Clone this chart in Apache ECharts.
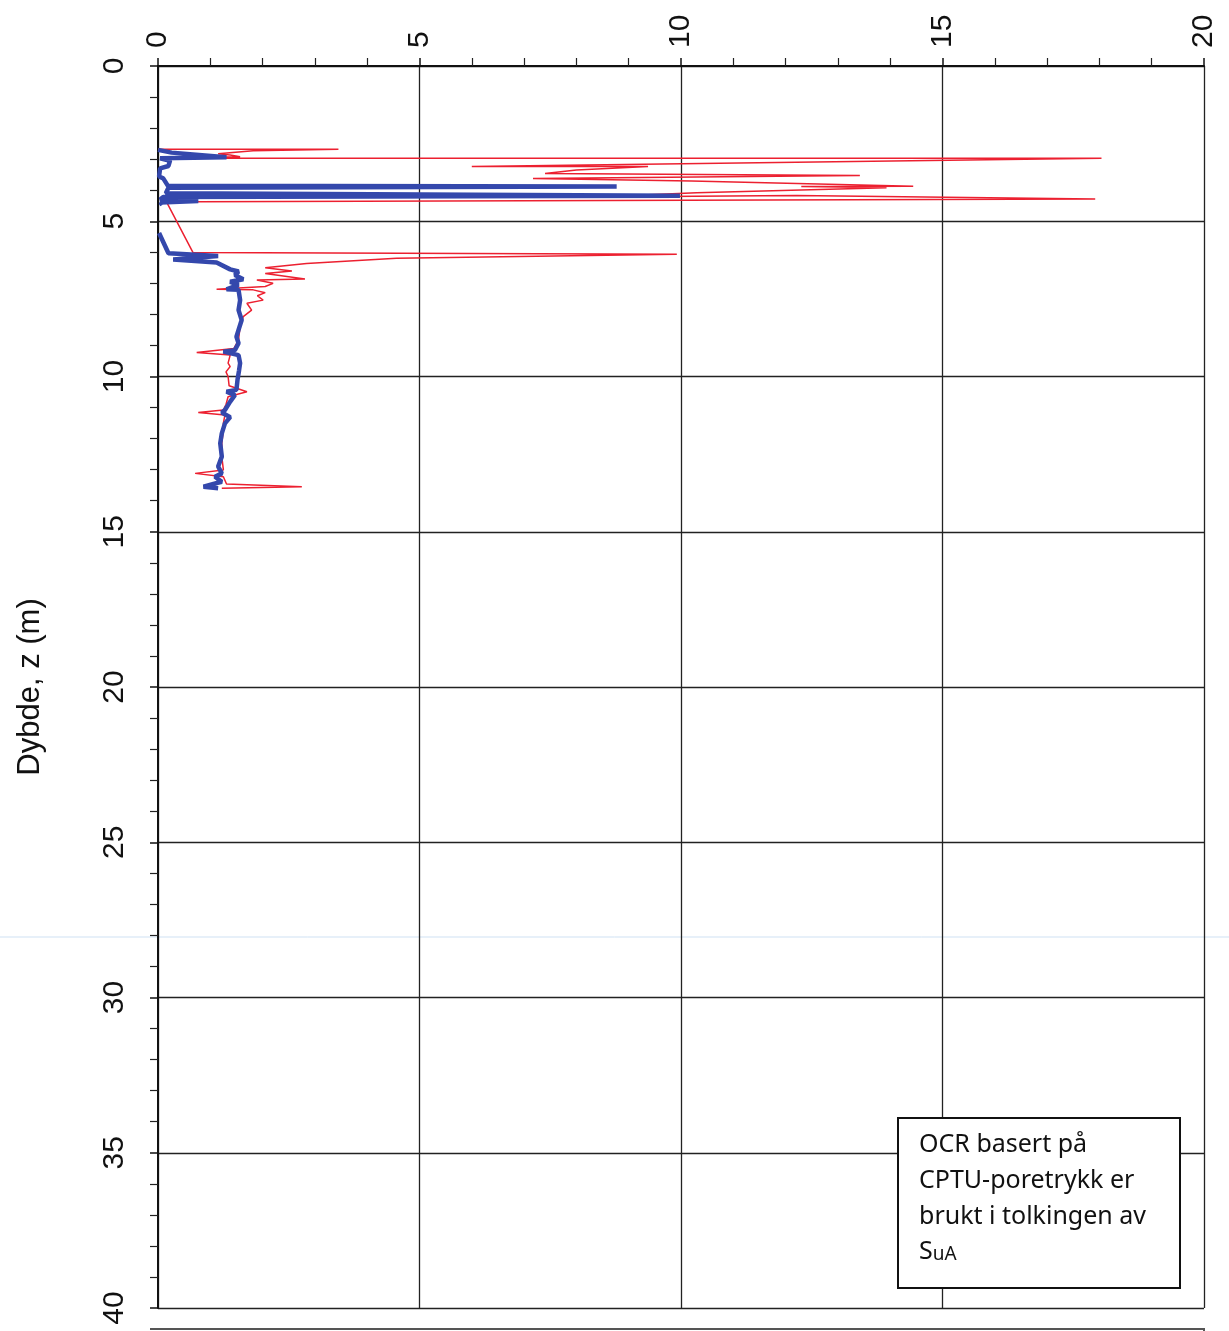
<!DOCTYPE html>
<html>
<head>
<meta charset="utf-8">
<script src="https://cdn.jsdelivr.net/npm/echarts@6/dist/echarts.min.js"></script>
<style>
html,body{margin:0;padding:0;background:#fff;}
#chart{width:1229px;height:1331px;}
</style>
</head>
<body>
<div id="chart"></div>
<script>
// OCR (x, top axis) vs depth z (m, left axis)
const xTicks = [0, 5, 10, 15, 20];
const yTicks = [0, 5, 10, 15, 20, 25, 30, 35, 40];

// Red series (thin)
const redDepth = [2.68, 2.68, 2.73, 2.83, 2.87, 2.92, 2.97, 2.97, 3.24, 3.24, 3.35, 3.46, 3.53, 3.62, 3.70, 3.87, 3.88, 3.92, 4.08, 4.22, 4.17, 4.28, 4.37, 4.40,
  6.01, 6.06, 6.12, 6.19, 6.36, 6.50, 6.60, 6.68, 6.86, 6.89, 7.00, 7.10, 7.19, 7.21, 7.30, 7.40, 7.54, 7.64, 7.86, 8.07, 8.39, 8.82, 9.10, 9.23, 9.31, 9.57,
  9.68, 9.85, 10.00, 10.30, 10.49, 10.65, 10.90, 11.08, 11.16, 11.24, 11.50, 11.72, 12.15, 12.58, 13.01, 13.12, 13.23, 13.46, 13.55, 13.60];
const redOCR = [0.00, 3.45, 1.82, 1.15, 1.38, 1.57, 0.04, 18.04, 6.00, 9.37, 8.00, 7.40, 13.42, 7.17, 10.20, 14.44, 12.30, 13.93, 10.30, 8.32, 12.21, 17.92, 0.77, 0.17,
  0.67, 9.92, 9.92, 4.56, 2.84, 2.05, 2.56, 2.05, 2.81, 1.89, 2.20, 2.05, 1.12, 1.82, 2.05, 1.90, 2.01, 1.70, 1.79, 1.63, 1.57, 1.54, 1.45, 0.74, 1.38, 1.34,
  1.38, 1.30, 1.34, 1.36, 1.70, 1.34, 1.30, 1.25, 0.77, 1.28, 1.25, 1.25, 1.22, 1.22, 1.25, 0.71, 1.25, 1.31, 2.75, 1.22];

// Blue series (thick); null = gap in the trace
const blueDepth = [2.70, 2.79, 2.94, 2.97, 3.05, 3.22, 3.30, 3.56, 3.62, 3.86, 3.88, 3.92, 4.10, 4.18, 4.22, 4.30, 4.35, 4.40, 4.48, 4.90, 5.38,
  6.03, 6.12, 6.23, 6.33, 6.55, 6.62, 6.73, 6.87, 6.95, 7.05, 7.19, 7.21, 7.54, 7.86, 8.18, 8.50, 8.72, 8.93, 9.15, 9.20, 9.31, 9.57, 9.80,
  10.11, 10.43, 10.49, 10.60, 10.81, 11.08, 11.16, 11.31, 11.51, 11.83, 12.15, 12.58, 12.90, 13.12, 13.23, 13.39, 13.46, 13.55, 13.60];
const blueOCR = [0.00, 0.26, 1.31, 0.04, 0.23, 0.20, 0.04, 0.02, 0.10, 0.19, 8.77, 0.20, 0.15, 9.98, 0.10, 0.04, 0.77, 0.05, 0.08, null, 0.02,
  0.20, 1.15, 0.29, 1.12, 1.38, 1.54, 1.47, 1.63, 1.38, 1.54, 1.31, 1.54, 1.57, 1.54, 1.60, 1.54, 1.50, 1.54, 1.47, 1.25, 1.54, 1.57, 1.55,
  1.52, 1.50, 1.31, 1.47, 1.38, 1.28, 1.22, 1.38, 1.28, 1.22, 1.19, 1.22, 1.15, 1.22, 1.09, 1.22, 1.06, 0.87, 1.15];

const noteLines = ['OCR basert på', 'CPTU-poretrykk er', 'brukt i tolkingen av'];
const yName = 'Dybde, z (m)';

const redData = redDepth.map((d, i) => [redOCR[i], d]);
const blueData = blueDepth.map((d, i) => blueOCR[i] === null ? '-' : [blueOCR[i], d]);

const chart = echarts.init(document.getElementById('chart'), null, {renderer: 'canvas'});
const labelFont = {fontFamily: 'Liberation Sans', fontSize: 30, color: '#111'};

chart.setOption({
  animation: false,
  backgroundColor: '#ffffff',
  grid: {left: 158, top: 66, right: 25, bottom: 23, containLabel: false},
  xAxis: {
    type: 'value', position: 'top', min: xTicks[0], max: xTicks[xTicks.length - 1], interval: 5,
    axisLine: {show: true, lineStyle: {color: '#111', width: 2}},
    axisTick: {show: true, length: 8, lineStyle: {color: '#111', width: 1.5}},
    minorTick: {show: true, splitNumber: 5, length: 8, lineStyle: {color: '#222', width: 1.2}},
    splitLine: {show: true, lineStyle: {color: '#222', width: 1.3}},
    axisLabel: Object.assign({rotate: 90, margin: 18}, labelFont)
  },
  yAxis: {
    type: 'value', inverse: true, min: yTicks[0], max: yTicks[yTicks.length - 1], interval: 5,
    name: yName, nameLocation: 'middle', nameRotate: 90, nameGap: 112,
    nameTextStyle: {fontFamily: 'Liberation Sans', fontSize: 31, color: '#111'},
    axisLine: {show: true, lineStyle: {color: '#111', width: 2}},
    axisTick: {show: true, length: 8, lineStyle: {color: '#111', width: 1.5}},
    minorTick: {show: true, splitNumber: 5, length: 8, lineStyle: {color: '#222', width: 1.2}},
    splitLine: {show: true, lineStyle: {color: '#222', width: 1.3}},
    axisLabel: Object.assign({rotate: 90, margin: 28}, labelFont)
  },
  series: [
    {type: 'line', data: redData, showSymbol: false, symbol: 'none', lineStyle: {color: '#ec2030', width: 1.5}, z: 3},
    {type: 'line', data: blueData, showSymbol: false, symbol: 'none', connectNulls: false, lineStyle: {color: '#3448ac', width: 4.5}, z: 4}
  ],
  graphic: [
    {type: 'line', shape: {x1: 0, y1: 937, x2: 1229, y2: 937}, style: {stroke: '#cfe1f3', lineWidth: 1}, z: 0, silent: true},
    {type: 'line', shape: {x1: 150, y1: 1329, x2: 1205, y2: 1329}, style: {stroke: '#555', lineWidth: 2}, silent: true},
    {type: 'line', shape: {x1: 1204, y1: 1329, x2: 1204, y2: 1331}, style: {stroke: '#555', lineWidth: 2}, silent: true},
    {type: 'rect', shape: {x: 898, y: 1118, width: 282, height: 170}, style: {fill: '#fff', stroke: '#111', lineWidth: 2}, z: 100},
    {type: 'text', left: 919, top: 1127, z: 101,
      style: {text: noteLines.join('\n'), fontFamily: 'Noto Sans', fontSize: 25, lineHeight: 36, fill: '#111'}},
    {type: 'text', left: 919, top: 1239, z: 101,
      style: {text: '{a|S}{b|uA}', fontFamily: 'Noto Sans', fill: '#111',
        rich: {a: {fontFamily: 'Noto Sans', fontSize: 25, fill: '#111', verticalAlign: 'bottom', lineHeight: 30},
               b: {fontFamily: 'Noto Sans', fontSize: 19, fill: '#111', verticalAlign: 'bottom', lineHeight: 30}}}}
  ]
});
</script>
</body>
</html>
